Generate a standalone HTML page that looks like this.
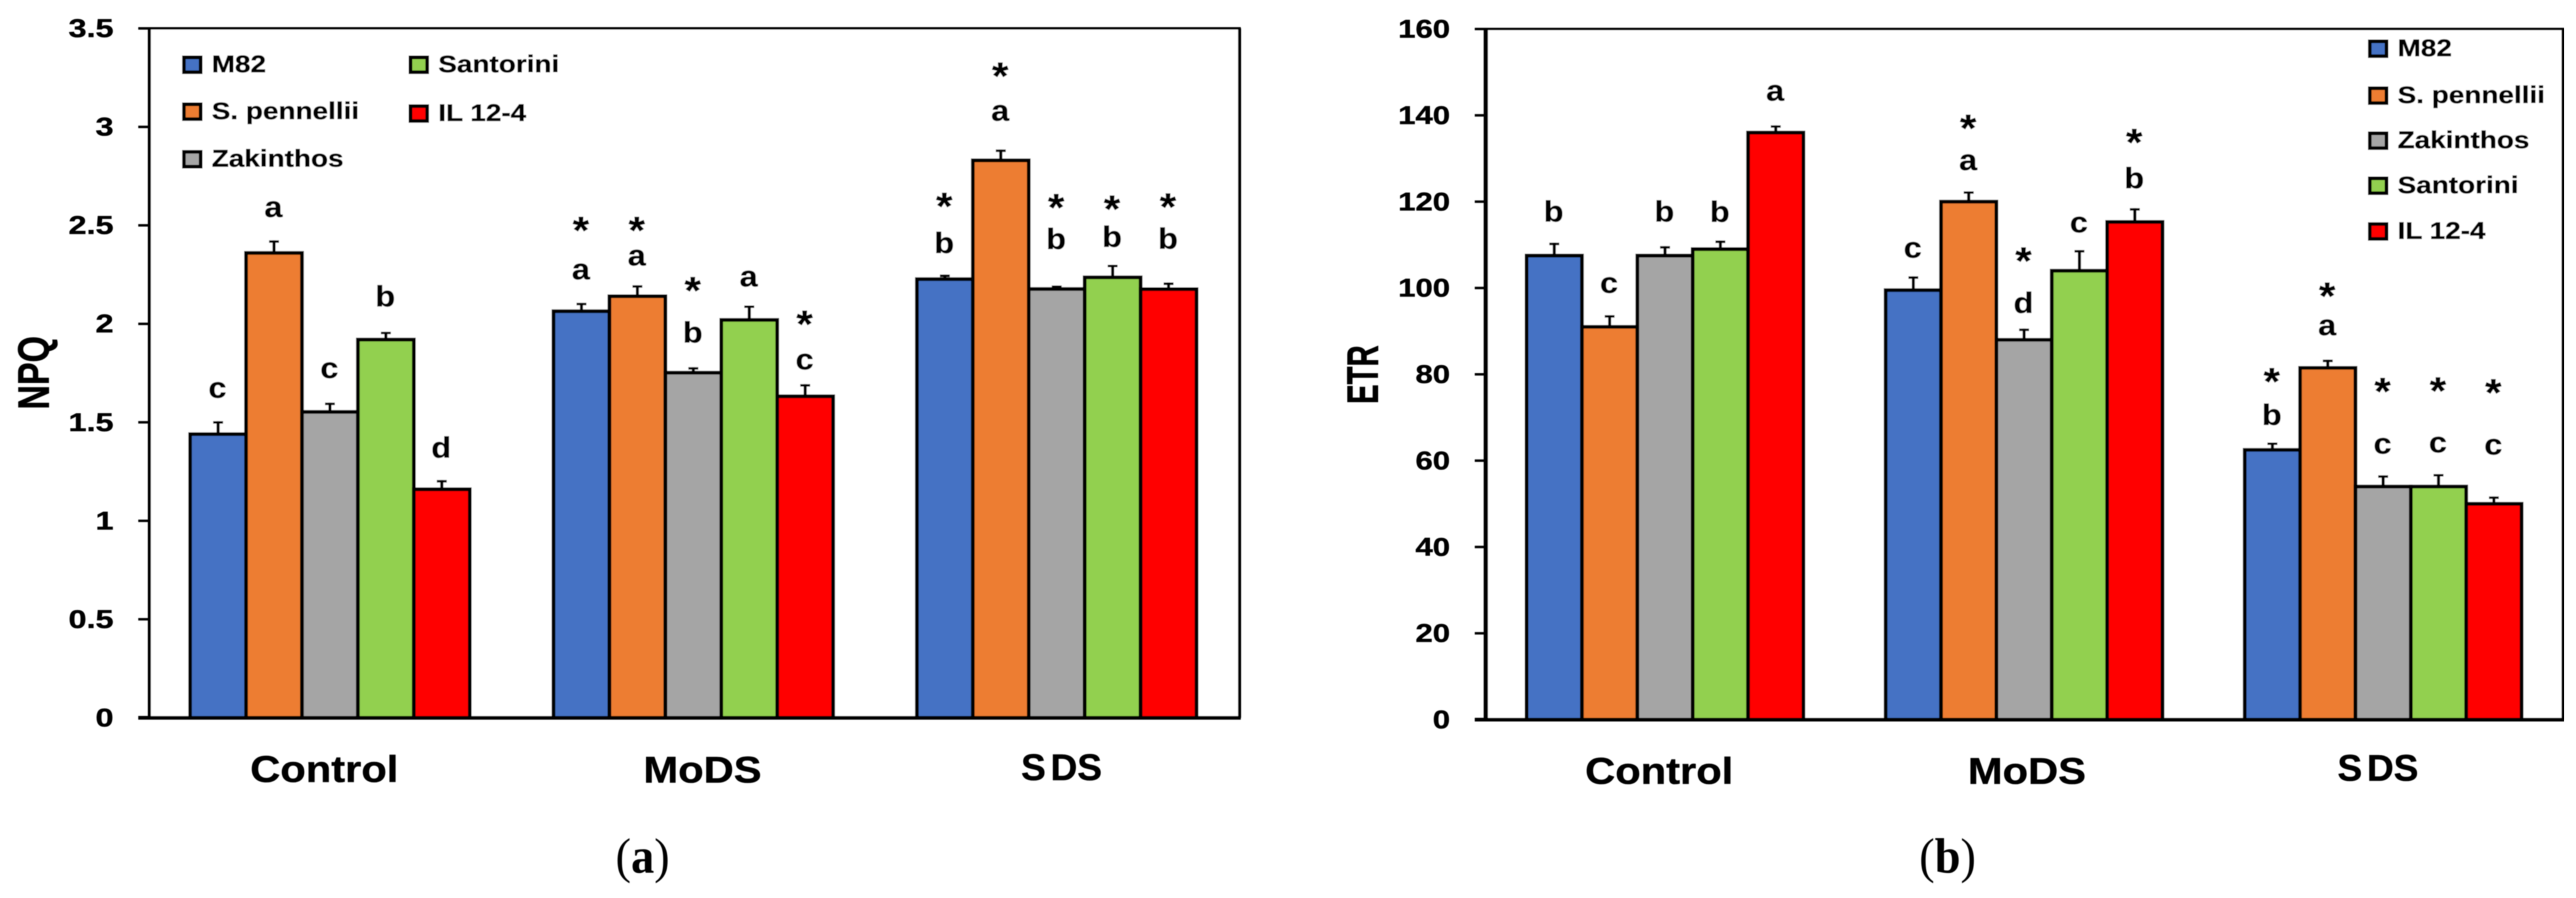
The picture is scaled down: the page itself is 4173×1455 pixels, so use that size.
<!DOCTYPE html>
<html lang="en">
<head>
<meta charset="utf-8">
<title>NPQ and ETR under drought stress</title>
<style>
  html, body { margin: 0; padding: 0; background: #fff; }
  svg { display: block; font-family: "Liberation Sans", sans-serif; font-weight: 700; }
</style>
</head>
<body>
<svg id="figure" xmlns="http://www.w3.org/2000/svg" width="4173" height="1455" viewBox="0 0 4173 1455">
  <defs><filter id="soft" x="0" y="0" width="100%" height="100%"><feGaussianBlur stdDeviation="0.9"/></filter></defs>
  <g id="root" filter="url(#soft)"></g>
</svg>
<script>
const categories = ['Control', 'MoDS', 'S DS'];
const seriesNames = ['M82', 'S. pennellii', 'Zakinthos', 'Santorini', 'IL 12-4'];
const seriesColors = ['#4472C4', '#ED7D31', '#A5A5A5', '#92D050', '#FF0000'];

const npqTicks = [0, 0.5, 1, 1.5, 2, 2.5, 3, 3.5];
const npqM82 = [1.44, 2.064, 2.227];
const npqPennellii = [2.36, 2.14, 2.83];
const npqZakinthos = [1.553, 1.752, 2.177];
const npqSantorini = [1.92, 2.02, 2.236];
const npqIL124 = [1.16, 1.632, 2.176];
const npqErrM82 = [0.066, 0.043, 0.023];
const npqErrPennellii = [0.064, 0.056, 0.055];
const npqErrZakinthos = [0.047, 0.028, 0.018];
const npqErrSantorini = [0.04, 0.073, 0.064];
const npqErrIL124 = [0.047, 0.062, 0.034];
const npqLetters = [['c','a','c','b','d'], ['a','a','b','a','c'], ['b','a','b','b','b']];
const npqLetterLift = [[.119,.119,.125,.128,.113], [.119,.100,.125,.097,.075], [.110,.147,.185,.091,.172]];
const npqStarLift = [[0,0,0,0,0], [.269,.2,.285,0,.25], [.257,.247,.232,.213,.232]];

const etrTicks = [0, 20, 40, 60, 80, 100, 120, 140, 160];
const etrM82 = [107.5, 99.5, 62.5];
const etrPennellii = [91, 120, 81.5];
const etrZakinthos = [107.5, 88, 54];
const etrSantorini = [109, 104, 54];
const etrIL124 = [136, 115.3, 50];
const etrErrM82 = [3, 3.2, 1.7];
const etrErrPennellii = [2.7, 2.4, 1.9];
const etrErrZakinthos = [2.2, 2.6, 2.6];
const etrErrSantorini = [2, 4.8, 2.9];
const etrErrIL124 = [1.7, 3.2, 1.7];
const etrLetters = [['b','c','b','b','a'], ['c','a','d','c','b'], ['b','a','c','c','c']];
const etrLetterLift = [[4.9,5.2,5.7,4.3,5.7], [4.3,4.9,3.6,4.1,4.6], [4.1,5.7,5,5,9.7]];
const etrStarLift = [[0,0,0,0,0], [0,10.7,13,0,11.6], [11,10,15.4,15.2,15.3]];

const SVGNS = 'http://www.w3.org/2000/svg';
const root = document.getElementById('root');

function shape(tag, attrs, parent) {
  const el = document.createElementNS(SVGNS, tag);
  for (const k in attrs) el.setAttribute(k, attrs[k]);
  parent.appendChild(el);
  return el;
}
function label(str, x, y, size, anchor, sx, parent, sy) {
  const el = shape('text', {
    transform: 'translate(' + x + ',' + y + ') scale(' + sx + ',' + (sy || 1) + ')',
    'font-size': size, 'text-anchor': anchor, fill: '#000', stroke: '#000', 'stroke-width': 0.6
  }, parent);
  el.textContent = str;
  return el;
}

function drawChart(cfg) {
  const g = shape('g', {}, root);
  
  

  const max = cfg.ticks[cfg.ticks.length - 1];
  const yScale = function (v) { return cfg.y0 - (v / max) * (cfg.y0 - cfg.yTop); };
  const pitch = (cfg.right - cfg.left) / categories.length;
  const xScale = function (cat, ser) { return cfg.left + cat * pitch + cfg.pad + ser * cfg.barW; };

  // plot frame
  const frame = shape('rect', { x: cfg.left, y: cfg.yTop, width: cfg.right - cfg.left, height: cfg.y0 - cfg.yTop, fill: '#fff', stroke: 'none' }, g);
  
  

  // ticks and tick labels
  cfg.ticks.forEach(function (t) {
    const y = yScale(t);
    const tick = shape('line', { x1: cfg.left - 18, x2: cfg.left, y1: y, y2: y, stroke: '#000', 'stroke-width': 4 }, g);
    
    
    const tl = label(String(t), cfg.tickRight, y + 14, 42, 'end', cfg.tickSx, g);
    
    
  });

  // bars with error bars
  categories.forEach(function (cat, c) {
    cfg.values.forEach(function (vals, s) {
      const x = xScale(c, s);
      const top = yScale(vals[c]);
      const bar = shape('rect', { x: x, y: top, width: cfg.barW, height: cfg.y0 - top, fill: seriesColors[s], stroke: '#000', 'stroke-width': 6 }, g);
      
      

      const cx = x + cfg.barW / 2;
      const errTop = yScale(vals[c] + cfg.errors[s][c]);
      const stem = shape('line', { x1: cx, x2: cx, y1: top, y2: errTop, stroke: '#000', 'stroke-width': 5 }, g);
      
      
      const cap = shape('line', { x1: cx - 8, x2: cx + 8, y1: errTop + 2, y2: errTop + 2, stroke: '#000', 'stroke-width': 4 }, g);
      
      

      const pxPerUnit = (cfg.y0 - cfg.yTop) / max;
      const letterY = errTop - cfg.letterLift[c][s] * pxPerUnit;
      const letter = label(cfg.letters[c][s], cx - 1, letterY, 47, 'middle', 1.12, g);
      
      

      if (cfg.starLift[c][s] > 0) {
        const starCentre = letterY - cfg.starLift[c][s] * pxPerUnit;
        const star = label('*', cx - 1, starCentre + 0.45 * 62, 62, 'middle', 1.1, g);
        
        
      }
    });
  });

  // axis and frame lines
  const topLine = shape('line', { x1: cfg.left - 18, x2: cfg.right + 2, y1: cfg.yTop, y2: cfg.yTop, stroke: '#000', 'stroke-width': 4 }, g);
  
  
  const rightLine = shape('line', { x1: cfg.right, x2: cfg.right, y1: cfg.yTop, y2: cfg.y0, stroke: '#000', 'stroke-width': 5 }, g);
  
  
  const yAxis = shape('line', { x1: cfg.left, x2: cfg.left, y1: cfg.yTop, y2: cfg.y0, stroke: '#000', 'stroke-width': cfg.axisW }, g);
  
  
  const xAxis = shape('line', { x1: cfg.left - 18, x2: cfg.right + 2, y1: cfg.y0, y2: cfg.y0, stroke: '#000', 'stroke-width': 6 }, g);
  
  

  // category labels
  categories.forEach(function (cat, c) {
    const isTight = cat.indexOf(' ') >= 0;
    const cl = label(cat, cfg.left + (c + 0.5) * pitch + cfg.catShift[c], cfg.catBase[c], 60, 'middle', isTight ? 1 : 1.125, g);
    if (isTight) cl.setAttribute('word-spacing', '-9');
    
    
  });

  // y-axis title
  const title = label(cfg.title, 0, 0, cfg.titleSize, 'middle', 1, g);
  title.setAttribute('transform', 'translate(' + cfg.titleX + ',' + cfg.titleY + ') rotate(-90) scale(1,' + cfg.titleSy + ')');
  
  

  // legend
  cfg.legend.forEach(function (item, i) {
    const sw = shape('rect', { x: item.x, y: item.y - 12, width: 27, height: 24, fill: seriesColors[i], stroke: '#000', 'stroke-width': 6 }, g);
    
    
    const lt = label(seriesNames[i], item.x + 45, item.y + 12, 39, 'start', 1.16, g);
    
    
  });

  // panel caption
  const cap = shape('text', { transform: 'translate(' + cfg.capX + ',1414) scale(0.94,1)', 'font-size': 80, 'text-anchor': 'middle', fill: '#000', style: 'font-family:"Liberation Serif",serif;font-weight:400' }, g);
  
  
  const open = shape('tspan', {}, cap);
  open.textContent = '(';
  const letterSpan = shape('tspan', { 'font-weight': 700 }, cap);
  letterSpan.textContent = cfg.capLetter;
  const close = shape('tspan', {}, cap);
  close.textContent = ')';
}

drawChart({
  id: 'npq', ticks: npqTicks,
  values: [npqM82, npqPennellii, npqZakinthos, npqSantorini, npqIL124],
  errors: [npqErrM82, npqErrPennellii, npqErrZakinthos, npqErrSantorini, npqErrIL124],
  letters: npqLetters, letterLift: npqLetterLift, starLift: npqStarLift,
  left: 242, right: 2008, yTop: 46, y0: 1163, pad: 66, barW: 90.6, axisW: 5,
  tickRight: 184, tickSx: 1.25, catShift: [-11, 13, 6], catBase: [1267, 1268, 1264],
  title: 'NPQ', titleSize: 55, titleX: 79, titleY: 604, titleSy: 1.3,
  legend: [{x: 298, y: 105}, {x: 298, y: 181}, {x: 298, y: 258}, {x: 665, y: 105}, {x: 665, y: 184}],
  capX: 1041, capLetter: 'a'
});
drawChart({
  id: 'etr', ticks: etrTicks,
  values: [etrM82, etrPennellii, etrZakinthos, etrSantorini, etrIL124],
  errors: [etrErrM82, etrErrPennellii, etrErrZakinthos, etrErrSantorini, etrErrIL124],
  letters: etrLetters, letterLift: etrLetterLift, starLift: etrStarLift,
  left: 2407, right: 4152, yTop: 47, y0: 1166, pad: 66, barW: 89.7, axisW: 7,
  tickRight: 2349, tickSx: 1.2, catShift: [-10, 4, -9], catBase: [1270, 1270, 1265],
  title: 'ETR', titleSize: 47.5, titleX: 2232, titleY: 607, titleSy: 1.5,
  legend: [{x: 3839, y: 79}, {x: 3839, y: 155}, {x: 3839, y: 228}, {x: 3839, y: 301}, {x: 3839, y: 375}],
  capX: 3155, capLetter: 'b'
});
</script>
</body>
</html>
